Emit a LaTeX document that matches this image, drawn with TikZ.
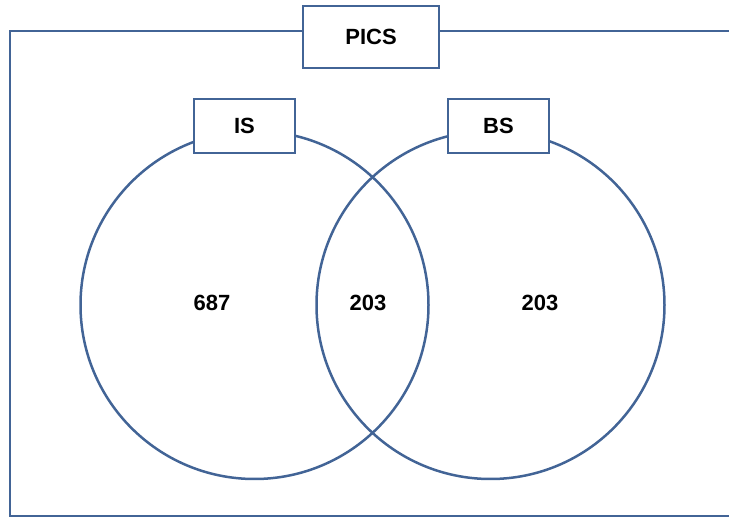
\documentclass[tikz,border=0pt]{standalone}
\usepackage{fontspec}
\setmainfont{Liberation Sans}
\definecolor{vline}{RGB}{66,100,150}
\begin{document}
\begin{tikzpicture}[x=1pt,y=-1pt,
  lbl/.style={font=\fontsize{22}{24}\selectfont\bfseries, text=black},
  tagbox/.style={draw=vline, line width=2.5pt, fill=white, inner sep=0pt, lbl},
  setcircle/.style={draw=vline, line width=2.5pt, circle, inner sep=0pt, minimum size=348pt}]
\useasboundingbox (0,0) rectangle (729,518);
\clip (0,0) rectangle (729,518);
\coordinate (tr) at (735,31);
\coordinate (br) at (735,516);
\coordinate (tl) at (10,31);
\coordinate (bl) at (10,516);
\draw[vline, line width=2.5pt] (tr) -- (tl) -- (bl) -- (br);
\node[setcircle] (cis) at (254.5,305) {};
\node[setcircle] (cbs) at (490.5,305) {};
\node[tagbox, minimum width=136pt, minimum height=62pt] (pics) at (371,37) {PICS};
\node[tagbox, minimum width=101pt, minimum height=54pt] (is) at (244.5,126) {IS};
\node[tagbox, minimum width=101pt, minimum height=54pt] (bs) at (498.5,126) {BS};
\node[lbl] (n1) at (212,303) {687};
\node[lbl] (n2) at (368,303) {203};
\node[lbl] (n3) at (540,303) {203};
\end{tikzpicture}
\end{document}
